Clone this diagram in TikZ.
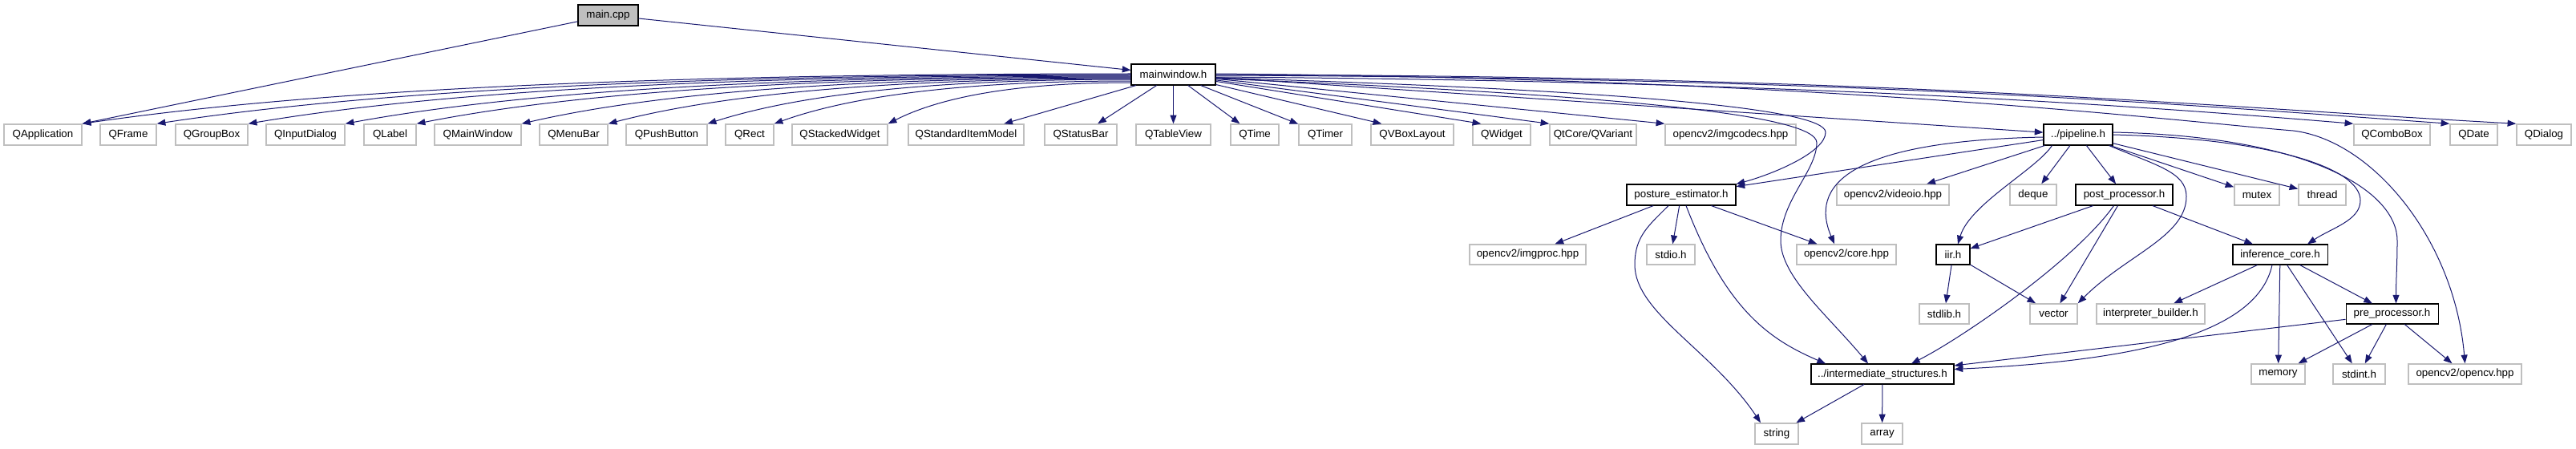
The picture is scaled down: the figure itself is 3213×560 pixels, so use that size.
\documentclass[tikz,border=0pt]{standalone}
\usepackage{fontspec}
\setmainfont{Liberation Sans}
\usetikzlibrary{arrows.meta}
\definecolor{edgeblue}{HTML}{191970}
\definecolor{greyseventyfive}{HTML}{BFBFBF}
\tikzset{
  extbox/.style={draw=greyseventyfive, line width=1.1pt, fill=white, inner sep=0pt},
  intbox/.style={draw=black, line width=0.8pt, fill=white, inner sep=0pt},
  rootbox/.style={draw=black, line width=0.8pt, fill=greyseventyfive, inner sep=0pt},
  edge/.style={draw=edgeblue, line width=0.75pt, -{Triangle[length=8pt,width=6pt]}}
}
\newcommand\nbox[7]{\node[#1, minimum width={(#5-#3)*0.75pt}, minimum height={(#6-#4)*0.75pt}] (#2) at ({(#3+#5)/2},{(#4+#6)/2}) {#7};}
\begin{document}
\begin{tikzpicture}[x=0.75pt, y=-0.75pt, font=\fontsize{10pt}{12pt}\selectfont]
\fill[white] (0,0) rectangle (3213,560);
\useasboundingbox (0,0) rectangle (3213,560);
% nodes
\nbox{rootbox}{main}{721}{6}{796}{32}{main.cpp}
\nbox{intbox}{mw}{1411}{80}{1516}{106}{mainwindow.h}
% row 1
\nbox{extbox}{qapp}{5}{155}{102}{181}{QApplication}
\nbox{extbox}{qframe}{125}{155}{195}{181}{QFrame}
\nbox{extbox}{qgroup}{219}{155}{309}{181}{QGroupBox}
\nbox{extbox}{qinput}{332}{155}{430}{181}{QInputDialog}
\nbox{extbox}{qlabel}{454}{155}{519}{181}{QLabel}
\nbox{extbox}{qmainwin}{542}{155}{650}{181}{QMainWindow}
\nbox{extbox}{qmenubar}{673}{155}{758}{181}{QMenuBar}
\nbox{extbox}{qpush}{781}{155}{882}{181}{QPushButton}
\nbox{extbox}{qrect}{905}{155}{965}{181}{QRect}
\nbox{extbox}{qstacked}{988}{155}{1107}{181}{QStackedWidget}
\nbox{extbox}{qsim}{1133}{155}{1277}{181}{QStandardItemModel}
\nbox{extbox}{qstatus}{1303}{155}{1393}{181}{QStatusBar}
\nbox{extbox}{qtable}{1417}{155}{1510}{181}{QTableView}
\nbox{extbox}{qtime}{1535}{155}{1595}{181}{QTime}
\nbox{extbox}{qtimer}{1620}{155}{1686}{181}{QTimer}
\nbox{extbox}{qvbox}{1710}{155}{1813}{181}{QVBoxLayout}
\nbox{extbox}{qwidget}{1837}{155}{1909}{181}{QWidget}
\nbox{extbox}{qvariant}{1933}{155}{2041}{181}{QtCore/QVariant}
\nbox{extbox}{imgcodecs}{2077}{155}{2240}{181}{opencv2/imgcodecs.hpp}
\nbox{intbox}{pipe}{2549}{155}{2635}{181}{../pipeline.h}
\nbox{extbox}{qcombo}{2936}{155}{3031}{181}{QComboBox}
\nbox{extbox}{qdate}{3056}{155}{3115}{181}{QDate}
\nbox{extbox}{qdialog}{3139}{155}{3207}{181}{QDialog}
% row 2
\nbox{intbox}{pe}{2029}{230}{2165}{256}{posture\_estimator.h}
\nbox{extbox}{vid}{2291}{230}{2431}{256}{opencv2/videoio.hpp}
\nbox{extbox}{deque}{2507}{230}{2565}{256}{deque}
\nbox{intbox}{post}{2589}{230}{2710}{256}{post\_processor.h}
\nbox{extbox}{mutex}{2787}{230}{2843}{256}{mutex}
\nbox{extbox}{thread}{2867}{230}{2926}{256}{thread}
% row 3
\nbox{extbox}{imgproc}{1833}{305}{1978}{330}{opencv2/imgproc.hpp}
\nbox{extbox}{stdio}{2054}{305}{2114}{330}{stdio.h}
\nbox{extbox}{core}{2241}{305}{2365}{330}{opencv2/core.hpp}
\nbox{intbox}{iir}{2415}{305}{2457}{330}{iir.h}
\nbox{intbox}{ic}{2785}{305}{2903}{330}{inference\_core.h}
% row 4
\nbox{extbox}{stdlib}{2394}{379}{2456}{404}{stdlib.h}
\nbox{extbox}{vec}{2532}{379}{2591}{404}{vector}
\nbox{extbox}{ib}{2615}{379}{2750}{404}{interpreter\_builder.h}
\nbox{intbox}{pre}{2926}{379}{3041}{404}{pre\_processor.h}
% row 5
\nbox{intbox}{is}{2259}{454}{2437}{479}{../intermediate\_structures.h}
\nbox{extbox}{mem}{2808}{454}{2875}{479}{memory}
\nbox{extbox}{stdint}{2910}{454}{2975}{479}{stdint.h}
\nbox{extbox}{ocv}{3004}{454}{3145}{479}{opencv2/opencv.hpp}
% row 6
\nbox{extbox}{string}{2189}{528}{2243}{554}{string}
\nbox{extbox}{array}{2322}{528}{2373}{554}{array}
% waypoints
\coordinate (wpP) at (2277,165);
\coordinate (wpI1) at (2266,178);
\coordinate (wpI2) at (2221,300);
\coordinate (wpS) at (2039,330);
\coordinate (wpV) at (2727,245);
\coordinate (wpIC) at (2944,250);
\coordinate (wpPP) at (2990,300);
\coordinate (wpO) at (2860,163);
% main.cpp
\draw[edge] (main) -- (qapp.north east);
\draw[edge] (main) -- (mw);
% mainwindow.h left fan
\draw[edge] ([shift={(0,-1)}]mw.west) .. controls +(-655,0) and +(262,-38) .. (qapp.north east);
\draw[edge] (mw.west) .. controls +(-608,0) and +(243,-37) .. (qframe.north east);
\draw[edge] ([shift={(0,1)}]mw.west) .. controls +(-551,0) and +(220,-37) .. (qgroup.north east);
\draw[edge] ([shift={(0,2)}]mw.west) .. controls +(-490,0) and +(196,-36) .. (qinput.north east);
\draw[edge] ([shift={(0,3)}]mw.west) .. controls +(-446,0) and +(178,-35) .. (qlabel.north east);
\draw[edge] ([shift={(0,4)}]mw.west) .. controls +(-380,0) and +(152,-35) .. (qmainwin.north east);
\draw[edge] ([shift={(0,5)}]mw.west) .. controls +(-326,0) and +(131,-34) .. (qmenubar.north east);
\draw[edge] ([shift={(0,6)}]mw.west) .. controls +(-264,0) and +(106,-34) .. (qpush.north east);
\draw[edge] ([shift={(0,8)}]mw.west) .. controls +(-223,0) and +(89,-32) .. (qrect.north east);
\draw[edge] ([shift={(0,10)}]mw.west) .. controls +(-152,0) and +(61,-31) .. (qstacked.north east);
% mainwindow.h straight
\draw[edge] (mw) -- (qsim);
\draw[edge] (mw) -- (qstatus);
\draw[edge] (mw) -- (qtable);
\draw[edge] (mw) -- (qtime);
\draw[edge] (mw) -- (qtimer);
\draw[edge] (mw) -- ([shift={(14,0)}]qvbox.north west);
\draw[edge] (mw) -- ([shift={(11,0)}]qwidget.north west);
\draw[edge] (mw) -- (qvariant.north west);
\draw[edge] (mw) -- (imgcodecs.north west);
\draw[edge] (mw) -- (pipe);
% mainwindow.h right curves
\draw[edge] ([shift={(0,3)}]mw.east) .. controls +(700,5) and +(-300,-25) .. (qcombo.north west);
\draw[edge] ([shift={(0,1)}]mw.east) .. controls +(800,3) and +(-350,-25) .. (qdate.north west);
\draw[edge] (mw.east) .. controls +(850,2) and +(-400,-22) .. (qdialog.north west);
\draw[edge] ([shift={(0,-1)}]mw.east) .. controls +(784,7) and +(-160,-13) .. (wpO) .. controls +(100,12) and +(-13,-153) .. (ocv.north);
\draw[edge] ([shift={(0,4)}]mw.east) .. controls +(500,15) and +(0,-30) .. (wpP) .. controls +(0,25) and +(45,-12) .. (pe.north east);
\draw[edge] ([shift={(0,5)}]mw.east) .. controls +(500,20) and +(0,-35) .. (wpI1) .. controls +(0,35) and +(0,-50) .. (wpI2) .. controls +(0,45) and +(-50,-60) .. ([shift={(-18,0)}]is.north);
% posture_estimator.h
\draw[edge] (pe) -- (imgproc);
\draw[edge] (pe) -- (stdio);
\draw[edge] ([shift={(-16,0)}]pe.south) .. controls +(-25,25) and +(0,-35) .. (wpS) .. controls +(0,60) and +(-60,-90) .. ([shift={(-20,0)}]string.north);
\draw[edge] ([shift={(6,0)}]pe.south) .. controls +(50,130) and +(-70,-30) .. ([shift={(-71,0)}]is.north);
\draw[edge] (pe) -- (core);
% pipeline.h
\draw[edge] (pipe) -- (pe);
\draw[edge] (pipe) -- (vid);
\draw[edge] ([shift={(0,3)}]pipe.west) .. controls +(-250,5) and +(-30,-70) .. ([shift={(-15,0)}]core.north);
\draw[edge] ([shift={(11,0)}]pipe.south west) .. controls +(-20,30) and +(15,-50) .. ([shift={(6,0)}]iir.north);
\draw[edge] (pipe) -- (deque);
\draw[edge] (pipe) -- (post);
\draw[edge] ([shift={(-5,0)}]pipe.south east) .. controls +(60,25) and +(0,-30) .. (wpV) .. controls +(0,50) and +(60,-60) .. (vec.north east);
\draw[edge] (pipe) -- (mutex);
\draw[edge] (pipe) -- (thread);
\draw[edge] (pipe.east) .. controls +(200,5) and +(0,-40) .. (wpIC) .. controls +(0,25) and +(30,-20) .. ([shift={(34,0)}]ic.north);
\draw[edge] ([shift={(0,-3)}]pipe.east) .. controls +(250,5) and +(0,-60) .. (wpPP) .. controls +(0,30) and +(0,-30) .. ([shift={(5,0)}]pre.north);
% post_processor.h
\draw[edge] (post) -- (iir);
\draw[edge] (post) -- (vec);
\draw[edge] ([shift={(-13,0)}]post.south) .. controls +(-50,70) and +(60,-30) .. ([shift={(36,0)}]is.north);
\draw[edge] (post) -- (ic);
% iir.h
\draw[edge] (iir) -- (stdlib);
\draw[edge] (iir) -- (vec);
% inference_core.h
\draw[edge] (ic) -- (ib);
\draw[edge] ([shift={(-10,0)}]ic.south) .. controls +(-20,90) and +(213,-10) .. ([shift={(0,-6)}]is.east);
\draw[edge] (ic) -- (mem);
\draw[edge] (ic) -- (stdint);
\draw[edge] (ic) -- (pre);
% pre_processor.h
\draw[edge] (pre) -- (is);
\draw[edge] (pre) -- (mem);
\draw[edge] (pre) -- (stdint);
\draw[edge] (pre) -- (ocv);
% intermediate_structures.h
\draw[edge] (is) -- (string);
\draw[edge] (is) -- (array);
\end{tikzpicture}
\end{document}
